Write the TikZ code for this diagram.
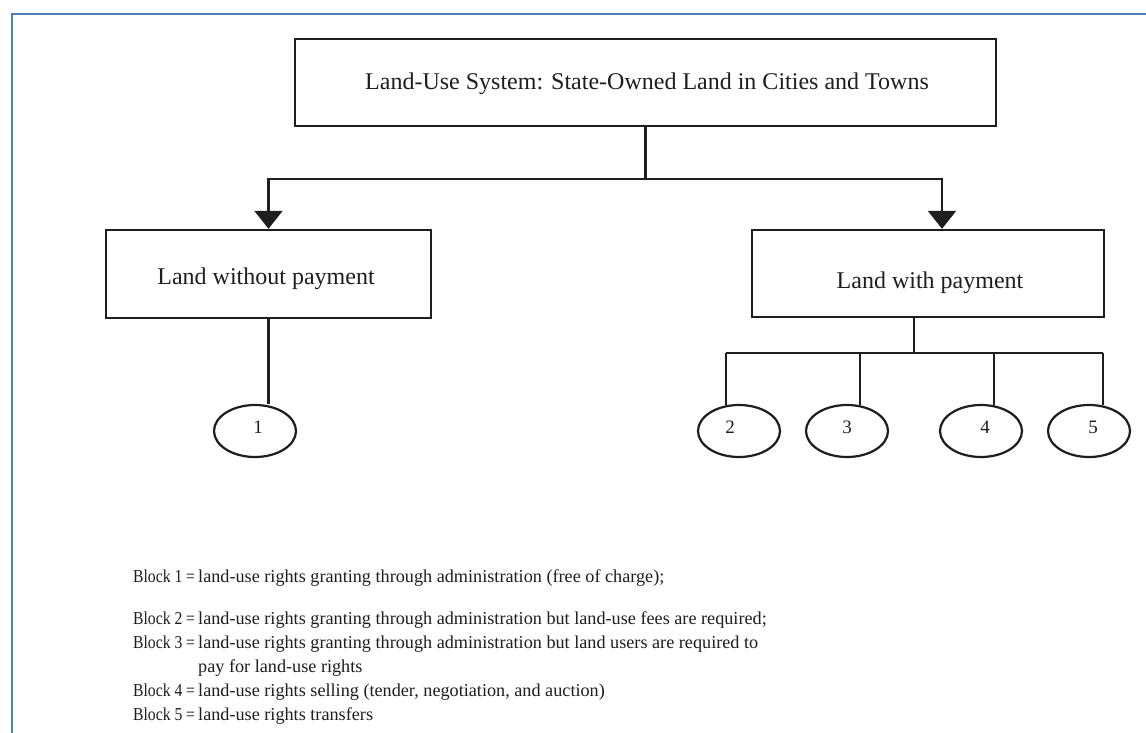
\documentclass[tikz,border=0pt]{standalone}
\usepackage{fontspec}
\usepackage{graphicx}
\setmainfont{Liberation Serif}
\usetikzlibrary{arrows.meta,calc,shapes.geometric}
\definecolor{frameblue}{RGB}{79,129,189}
\definecolor{ink}{RGB}{30,30,30}
\tikzset{
  boxnode/.style={draw=ink, line width=2.4pt, rectangle, inner sep=0pt},
  ovalnode/.style={draw=ink, line width=2.2pt, ellipse, minimum width=82pt, minimum height=52pt, inner sep=0pt},
  boxlabel/.style={text=ink, font=\fontsize{24}{28}\selectfont, inner sep=0pt},
  numlabel/.style={text=ink, font=\fontsize{19}{22}\selectfont, inner sep=0pt},
  legendtext/.style={text=ink, font=\fontsize{18.2}{22}\selectfont, inner sep=0pt, anchor=base west},
  wire/.style={draw=ink, line width=2.4pt},
  arrowwire/.style={wire, -{Triangle[width=28pt,length=18pt]}}
}
\newcommand{\blockkey}[1]{\scalebox{0.86}[1]{Block #1 =}}
\begin{document}
\begin{tikzpicture}[x=1pt,y=-1pt]
\useasboundingbox (0,0) rectangle (1146,733);
\fill[white] (0,0) rectangle (1146,733);
% frame
\draw[frameblue, line width=2.6pt] (12,740) -- (12,14) -- (1150,14);

% boxes
\node[boxnode, minimum width=701pt, minimum height=87pt] (top) at (645.5,82.5) {};
\node[boxlabel] (toplab) at (647,84) {Land-Use System: State-Owned Land in Cities and Towns};
\node[boxnode, minimum width=325pt, minimum height=88pt] (left) at (268.5,274) {};
\node[boxlabel] (leftlab) at (266,279) {Land without payment};
\node[boxnode, minimum width=352pt, minimum height=87pt] (right) at (928,273.5) {};
\node[boxlabel] (rightlab) at (930,283) {Land with payment};

% ellipses
\node[ovalnode] (e1) at (255,431) {};
\node[numlabel] at (258,427) {1};
\node[ovalnode] (e2) at (739,431) {};
\node[numlabel] at (730,427) {2};
\node[ovalnode] (e3) at (847,431) {};
\node[numlabel] at (847,427) {3};
\node[ovalnode] (e4) at (981,431) {};
\node[numlabel] at (985,427) {4};
\node[ovalnode] (e5) at (1089,431) {};
\node[numlabel] at (1093,427) {5};

% connectors from the top box
\coordinate (split) at ($(top.south)+(0,52)$);
\coordinate (rin) at ($(right.north)+(14,0)$);
\draw[wire] (top.south) -- (split);
\draw[arrowwire] (split) -| (left.north);
\draw[arrowwire] (split) -| (rin);

% left branch
\draw[wire] (left.south) -- (left.south |- e1.north);

% right branch
\coordinate (rout) at ($(right.south)+(-14,0)$);
\coordinate (bus) at ($(rout)+(0,35)$);
\coordinate (c2) at ($(e2.north)+(-13,1.3)$);
\coordinate (c3) at ($(e3.north)+(13,1.3)$);
\coordinate (c4) at ($(e4.north)+(13,1.3)$);
\coordinate (c5) at ($(e5.north)+(14,1.5)$);
\draw[wire] (rout) -- (bus);
\draw[wire] (c2 |- bus) -- (c5 |- bus);
\foreach \c in {c2,c3,c4,c5} \draw[wire] (\c |- bus) -- (\c);

% legend
\node[legendtext] (k1) at (133,582) {\blockkey{1}};
\node[legendtext] (t1) at (198,582) {land-use rights granting through administration (free of charge);};
\node[legendtext] (k2) at (133,624) {\blockkey{2}};
\node[legendtext] (t2) at (198,624) {land-use rights granting through administration but land-use fees are required;};
\node[legendtext] (k3) at (133,648) {\blockkey{3}};
\node[legendtext] (t3) at (198,648) {land-use rights granting through administration but land users are required to};
\node[legendtext] (t3b) at (198,672) {pay for land-use rights};
\node[legendtext] (k4) at (133,696) {\blockkey{4}};
\node[legendtext] (t4) at (198,696) {land-use rights selling (tender, negotiation, and auction)};
\node[legendtext] (k5) at (133,720) {\blockkey{5}};
\node[legendtext] (t5) at (198,720) {land-use rights transfers};
\end{tikzpicture}
\end{document}
